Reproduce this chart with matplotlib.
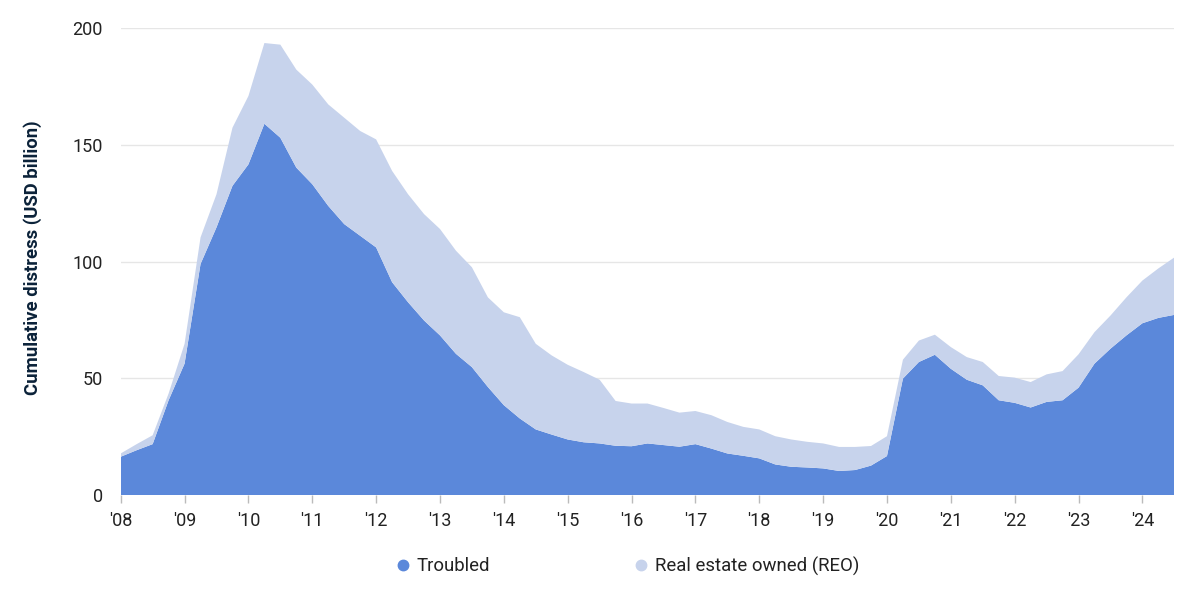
import matplotlib
matplotlib.use("Agg")
import matplotlib.pyplot as plt
from matplotlib.lines import Line2D
import numpy as np

plt.rcParams['font.family'] = ['Roboto', 'DejaVu Sans']

# Quarterly data, Q1 2008 .. Q3 2024
start_year = 2008
troubled = [16.4, 19.2, 21.8, 40.6, 56.3, 99.0, 114.7, 132.5, 141.7, 159.1, 153.1, 140.3,
            133.2, 123.9, 116.1, 111.1, 106.1, 91.2, 82.6, 74.8, 68.4, 60.5, 54.8, 46.3,
            38.5, 32.8, 28.1, 25.9, 23.8, 22.6, 22.1, 21.1, 20.9, 22.1, 21.4, 20.7,
            21.8, 19.9, 17.8, 16.8, 15.7, 13.1, 12.1, 11.8, 11.4, 10.3, 10.7, 12.6,
            16.7, 49.9, 57.0, 60.1, 54.1, 49.4, 47.0, 40.6, 39.5, 37.5, 39.9, 40.6,
            46.0, 56.3, 62.7, 68.4, 73.6, 75.9, 77.2]
total = [17.8, 21.8, 25.6, 43.5, 64.8, 110.4, 128.9, 157.4, 171.0, 193.7, 193.0, 182.3,
         175.9, 167.4, 161.7, 156.0, 152.4, 138.9, 128.9, 120.4, 114.0, 104.7, 97.6, 84.7,
         78.3, 76.2, 64.8, 59.8, 55.8, 52.7, 49.4, 40.3, 39.2, 39.2, 37.3, 35.3,
         36.0, 34.2, 31.3, 29.2, 28.1, 25.2, 23.8, 22.8, 22.1, 20.6, 20.6, 21.0,
         25.2, 58.0, 66.2, 68.7, 63.4, 59.1, 57.0, 51.0, 50.3, 48.4, 51.7, 53.1,
         60.3, 69.8, 76.9, 84.7, 91.9, 97.1, 101.8]
reo = [round(t - d, 1) for t, d in zip(total, troubled)]

years = list(range(2008, 2025))
year_labels = ["'%02d" % (y % 100) for y in years]
y_ticks = [0, 50, 100, 150, 200]

series_names = ["Troubled", "Real estate owned (REO)"]
colors = ["#5B88DA", "#C7D3EC"]

x = start_year + np.arange(len(troubled)) / 4.0

fig = plt.figure(figsize=(12, 6), dpi=100)
ax = fig.add_axes([0.1006, 0.175, 0.878, 0.7778])

ax.stackplot(x, troubled, reo, colors=colors, linewidth=0, zorder=2)

ax.set_xlim(x[0], x[-1])
ax.set_ylim(0, 200)
ax.set_xticks(years)
ax.set_xticklabels(year_labels)
ax.set_yticks(y_ticks)
ax.set_yticklabels([str(v) for v in y_ticks])

ax.grid(axis='y', color='#E6E6E6', linewidth=1, zorder=0)
ax.set_axisbelow(True)
for s in ax.spines.values():
    s.set_visible(False)

ax.tick_params(axis='x', colors='#BBBBBB', length=6, width=1, labelcolor='#222222',
               labelsize=13, pad=6)
ax.tick_params(axis='y', length=0, labelcolor='#222222', labelsize=13, pad=13)

ax.set_ylabel("Cumulative distress (USD billion)", fontsize=13.3, fontweight='bold',
              color='#0B2239')
ax.yaxis.set_label_coords(-0.0745, 0.509)

handles = [Line2D([0], [0], marker='o', linestyle='none', markersize=7.5,
                  markerfacecolor=c, markeredgecolor=c) for c in colors]
fig.legend(handles, series_names, loc='center', bbox_to_anchor=(622 / 1200, 1 - 566 / 600),
           ncol=2, frameon=False, fontsize=13.4, handletextpad=-0.25, columnspacing=7.1,
           labelcolor='#222222')

fig.savefig("out.png", dpi=100)
